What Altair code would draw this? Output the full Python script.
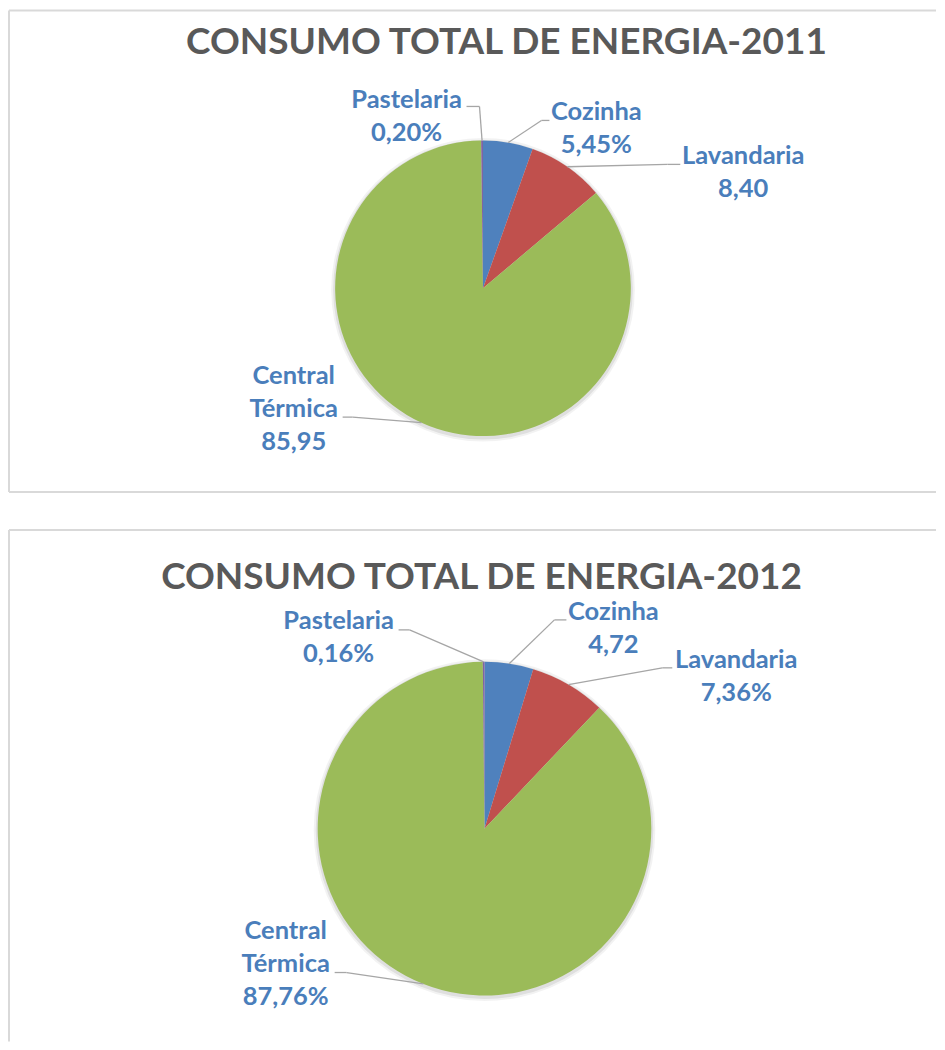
import altair as alt
import pandas as pd

# ---------------- data ----------------
CATEGORIES = ["Cozinha", "Lavandaria", "Central Térmica", "Pastelaria"]
VALUES_2011 = [5.45, 8.40, 85.95, 0.20]
VALUES_2012 = [4.72, 7.36, 87.76, 0.16]
LABELS_2011 = ["Cozinha\n5,45%", "Lavandaria\n8,40", "Central\nTérmica\n85,95", "Pastelaria\n0,20%"]
LABELS_2012 = ["Cozinha\n4,72", "Lavandaria\n7,36%", "Central\nTérmica\n87,76%", "Pastelaria\n0,16%"]
TITLE_2011 = "CONSUMO TOTAL DE ENERGIA-2011"
TITLE_2012 = "CONSUMO TOTAL DE ENERGIA-2012"

# ---------------- style ----------------
COLORS = ["#4F81BD", "#C0504D", "#9BBB59", "#8064A2"]
LABEL_COLOR = "#4A7EBB"
TITLE_COLOR = "#595959"
LEADER_COLOR = "#A6A6A6"
BORDER_COLOR = "#D9D9D9"
FONT = "Lato"
W = 929

# layout (panel pixel coords): pie centre/radius, title position,
# first-line label positions, leader start / elbow
LAYOUT_2011 = dict(
    height=500, cx=475.5, cy=280, r=148, title=(499, 34),
    lx=[589, 736, 286, 399], ly=[103.5, 147.5, 367.5, 91.5],
    ax=[542, 673, 335, 459], ex=[534, 660, 345, 472], ey=[112, 156, 409, 98],
    border=dict(top=2, bottom=484),
)
LAYOUT_2012 = dict(
    height=534, cx=477, cy=321, r=167, title=(474, 70.5),
    lx=[606, 729, 278, 331], ly=[104, 152, 423.5, 113],
    ax=[559, 665, 327, 391], ex=[547, 655, 339, 402], ey=[112, 160, 465, 122],
    border=dict(top=22, bottom=None),
)


def panel(values, labels, title, L):
    cx, cy, r = L["cx"], L["cy"], L["r"]
    df = pd.DataFrame({
        "cat": CATEGORIES, "value": values, "label": labels,
        "order": list(range(len(CATEGORIES))),
        "lx": L["lx"], "ly": L["ly"], "ax": L["ax"], "ex": L["ex"], "ey": L["ey"],
    })
    base = alt.Chart(df)
    one = alt.Chart(pd.DataFrame({"t": [title]}))

    layers = []
    # soft shadow
    for dr, op in [(4, 0.05), (2, 0.08)]:
        layers.append(one.mark_arc(theta=0, theta2=6.2832, radius=r + dr, color="#000000",
                                   opacity=op).encode(x=alt.value(cx), y=alt.value(cy + 1.5)))
    # pie
    layers.append(base.mark_arc(radius=r).encode(
        theta=alt.Theta("value:Q", stack=True),
        color=alt.Color("cat:N", scale=alt.Scale(domain=CATEGORIES, range=COLORS), legend=None),
        order=alt.Order("order:Q"),
        x=alt.value(cx), y=alt.value(cy),
    ))
    # leader lines
    lead = base.transform_window(
        cum="sum(value)", sort=[alt.SortField("order")], frame=[None, 0]
    ).transform_joinaggregate(total="sum(value)").transform_calculate(
        mid="(datum.cum - datum.value/2)/datum.total*2*PI",
        px=f"{cx} + {r}*sin(datum.mid)",
        py=f"{cy} - {r}*cos(datum.mid)",
    )
    layers.append(lead.mark_rule(color=LEADER_COLOR, strokeWidth=1.3).encode(
        x=alt.X("ax:Q", scale=None, axis=None), x2="ex:Q",
        y=alt.Y("ey:Q", scale=None, axis=None)))
    layers.append(lead.mark_rule(color=LEADER_COLOR, strokeWidth=1.3).encode(
        x=alt.X("ex:Q", scale=None, axis=None), x2="px:Q",
        y=alt.Y("ey:Q", scale=None, axis=None), y2="py:Q"))
    # labels
    layers.append(base.mark_text(font=FONT, fontSize=25.5, fontWeight="bold", color=LABEL_COLOR,
                                 lineBreak="\n", lineHeight=33, align="center",
                                 baseline="middle").encode(
        x=alt.X("lx:Q", scale=None, axis=None), y=alt.Y("ly:Q", scale=None, axis=None),
        text="label:N"))
    # title
    layers.append(one.mark_text(font=FONT, fontSize=37, fontWeight="bold", color=TITLE_COLOR,
                                align="center", baseline="middle").encode(
        x=alt.value(L["title"][0]), y=alt.value(L["title"][1]), text="t:N"))
    # border (left, top, bottom; right edge is beyond the page)
    b = L["border"]
    bottom = b["bottom"] if b["bottom"] is not None else L["height"]
    layers.append(one.mark_rule(color=BORDER_COLOR, strokeWidth=2).encode(
        x=alt.value(1), y=alt.value(b["top"]), y2=alt.value(bottom)))
    layers.append(one.mark_rule(color=BORDER_COLOR, strokeWidth=2).encode(
        x=alt.value(1), x2=alt.value(W), y=alt.value(b["top"])))
    if b["bottom"] is not None:
        layers.append(one.mark_rule(color=BORDER_COLOR, strokeWidth=2).encode(
            x=alt.value(1), x2=alt.value(W), y=alt.value(b["bottom"])))

    return alt.layer(*layers).properties(width=W, height=L["height"])


chart = alt.vconcat(
    panel(VALUES_2011, LABELS_2011, TITLE_2011, LAYOUT_2011),
    panel(VALUES_2012, LABELS_2012, TITLE_2012, LAYOUT_2012),
    spacing=0,
).properties(padding=0, background="white").configure_view(strokeWidth=0)

chart.save("out.html", embed_options={"renderer": "svg", "actions": False})
